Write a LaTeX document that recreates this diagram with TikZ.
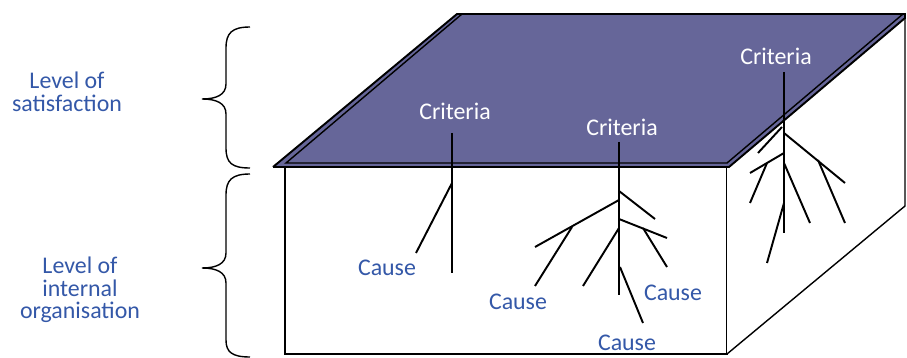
\documentclass[tikz,border=0pt]{standalone}
\usepackage{fontspec}
\setmainfont{Carlito}
\usepackage{tikz}
\definecolor{lid}{RGB}{102,102,153}
\definecolor{txtblue}{RGB}{52,88,168}

\begin{document}
\begin{tikzpicture}[x=0.02cm,y=-0.02cm,
  lbl/.style={font=\fontsize{13.6}{12.8}\selectfont, text=txtblue, align=center},
  crit/.style={font=\fontsize{13.6}{15}\selectfont, text=white},
  cause/.style={font=\fontsize{13.6}{15}\selectfont, text=txtblue},
  root/.style={line width=1.1pt},
  edge/.style={line width=0.8pt}]
\useasboundingbox (0,0) rectangle (907,358);
\draw[edge, fill=white] (285,163) -- (285,354) -- (727,354) -- (727,163);
\draw[edge, fill=white] (727,163) -- (905,16) -- (905,206) -- (727,354);
\draw[line width=1.1pt, fill=lid] (273,167) -- (457,14) -- (905,14) -- (905,18) -- (729,167) -- (273,167);
\draw[edge] (462,14) -- (286,163) -- (727,163) -- (903,14);

\draw[edge] (250,27) .. controls (232,27) and (226,33) .. (226,48) -- (226,84) .. controls (226,95) and (216,99) .. (202,99) .. controls (216,99) and (226,103) .. (226,114) -- (226,148) .. controls (226,163) and (232,168) .. (250,168);
\draw[edge] (250,174) .. controls (232,174) and (226,180) .. (226,195) -- (226,253) .. controls (226,264) and (216,268) .. (202,268) .. controls (216,268) and (226,272) .. (226,283) -- (226,340) .. controls (226,352) and (232,357) .. (250,357);
\node[lbl] (sat) at (67,92) {Level of\\satisfaction};
\node[lbl] (org) at (80,290) {Level of\\internal\\organisation};

\node[crit] (crit1) at (455,111) {Criteria};
\node[crit] (crit2) at (622,127) {Criteria};
\node[crit] (crit3) at (776,56) {Criteria};

\draw[root] (452,133) -- (452,273);
\draw[root] (452,183) -- (416,253);

\draw[root] (619,142) -- (619,295);
\draw[root] (619,191) -- (655,219);
\draw[root] (619,200) -- (535,247);
\draw[root] (572,227) -- (535,286);
\draw[root] (619,219) -- (667,238);
\draw[root] (643,228) -- (667,267);
\draw[root] (619,228) -- (583,286);
\draw[root] (620,267) -- (643,323);

\draw[root] (784,72) -- (784,233);
\draw[root] (782,127) -- (758,153);
\draw[root] (784,133) -- (845,183);
\draw[root] (818,160) -- (845,223);
\draw[root] (784,153) -- (750,173);
\draw[root] (767,163) -- (750,203);
\draw[root] (784,163) -- (810,223);
\draw[root] (784,203) -- (767,263);

\node[cause] (cause1) at (387,268) {Cause};
\node[cause] (cause2) at (518,302) {Cause};
\node[cause] (cause3) at (673,293) {Cause};
\node[cause] (cause4) at (627,343) {Cause};
\end{tikzpicture}
\end{document}
